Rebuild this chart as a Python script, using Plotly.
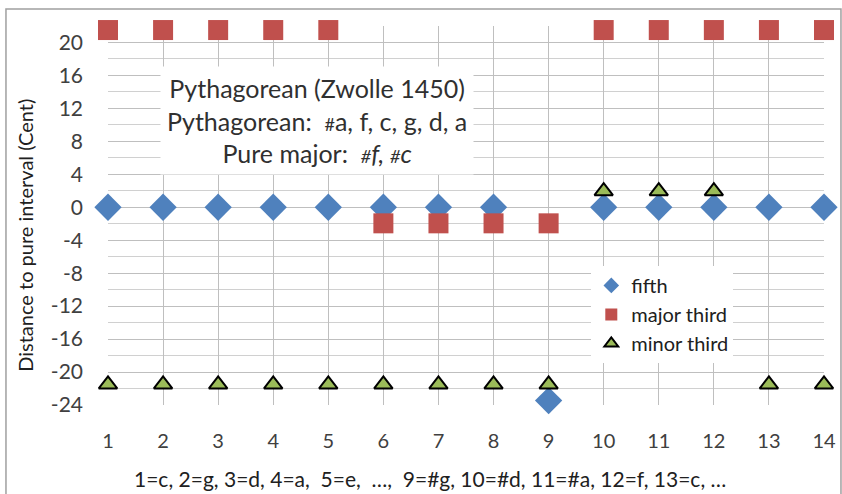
import plotly.graph_objects as go

x = list(range(1, 15))
fifth = [0, 0, 0, 0, 0, 0, 0, 0, -23.46, 0, 0, 0, 0, 0]
major_third = [21.51, 21.51, 21.51, 21.51, 21.51, -1.95, -1.95, -1.95, -1.95, 21.51, 21.51, 21.51, 21.51, 21.51]
minor_third = [-21.51, -21.51, -21.51, -21.51, -21.51, -21.51, -21.51, -21.51, -21.51, 1.95, 1.95, 1.95, -21.51, -21.51]
y_ticks = list(range(-24, 21, 4))
y_tick_text = [str(v) for v in y_ticks]

FONT = "Lato, Open Sans, sans-serif"
fig = go.Figure()
fig.add_trace(go.Scatter(x=x, y=fifth, mode="markers", name="fifth",
                         marker=dict(symbol="diamond", size=21, color="#4F81BD"), cliponaxis=False))
fig.add_trace(go.Scatter(x=x, y=major_third, mode="markers", name="major third",
                         marker=dict(symbol="square", size=20, color="#C0504D"), cliponaxis=False))
fig.add_trace(go.Scatter(x=x, y=minor_third, mode="markers", name="minor third",
                         marker=dict(symbol="triangle-up", size=16, color="#9BBB59",
                                     line=dict(color="black", width=2)), cliponaxis=False))

fig.update_layout(
    width=842, height=494,
    margin=dict(l=108, r=18, t=26, b=89),
    paper_bgcolor="white", plot_bgcolor="white",
    font=dict(family=FONT, size=20, color="#404040"),
    showlegend=True,
    legend=dict(x=0.675, y=0.367, xanchor="left", yanchor="top", bgcolor="white",
                font=dict(size=20, color="#202020"), itemwidth=30, tracegroupgap=0,
                itemsizing="constant", borderwidth=0),
    xaxis=dict(range=[1, 14], tickmode="array", tickvals=x, showgrid=True, automargin=False,
               gridcolor="#BFBFBF", gridwidth=1, zeroline=False, showline=False,
               ticks="", ticklabelstandoff=22, tickfont=dict(size=20, color="#404040")),
    yaxis=dict(range=[-24, 22], tickmode="array", tickvals=y_ticks, ticktext=y_tick_text,
               automargin=False,
               showgrid=True, gridcolor="#BFBFBF", gridwidth=1, zeroline=False, showline=False,
               ticks="", ticklabelstandoff=24, tickfont=dict(size=21, color="#404040"),
               minor=dict(dtick=2, showgrid=True, gridcolor="#D0D0D0", gridwidth=1)),
    annotations=[
        dict(x=0.292, y=0.75, xref="paper", yref="paper", xanchor="center", yanchor="middle",
             text="Pythagorean (Zwolle 1450)<br>Pythagorean:  <span style='font-size:18px'>#</span>a, f, c, g, d, a<br>Pure major:  <i><span style='font-size:18px'>#</span>f, <span style='font-size:18px'>#</span>c</i>",
             showarrow=False, bgcolor="white", borderpad=6,
             font=dict(size=25, color="#303030"), align="center"),
        dict(x=0.45, y=-0.193, xref="paper", yref="paper", xanchor="center", yanchor="middle",
             text="1=c, 2=g, 3=d, 4=a,  5=e,  …,  9=#g, 10=#d, 11=#a, 12=f, 13=c, …",
             showarrow=False, font=dict(size=21, color="#202020")),
        dict(x=-0.116, y=0.449, xref="paper", yref="paper", xanchor="center", yanchor="middle",
             text="Distance to pure interval (Cent)", textangle=-90,
             showarrow=False, font=dict(size=20, color="#202020")),
    ],
    shapes=[dict(type="rect", xref="paper", yref="paper",
                 x0=-0.1425, x1=1.0237, y0=-0.24, y1=1.045,
                 line=dict(color="#A0A0A0", width=1.5), fillcolor="rgba(0,0,0,0)", layer="below")],
)
fig.write_html("out.html")
